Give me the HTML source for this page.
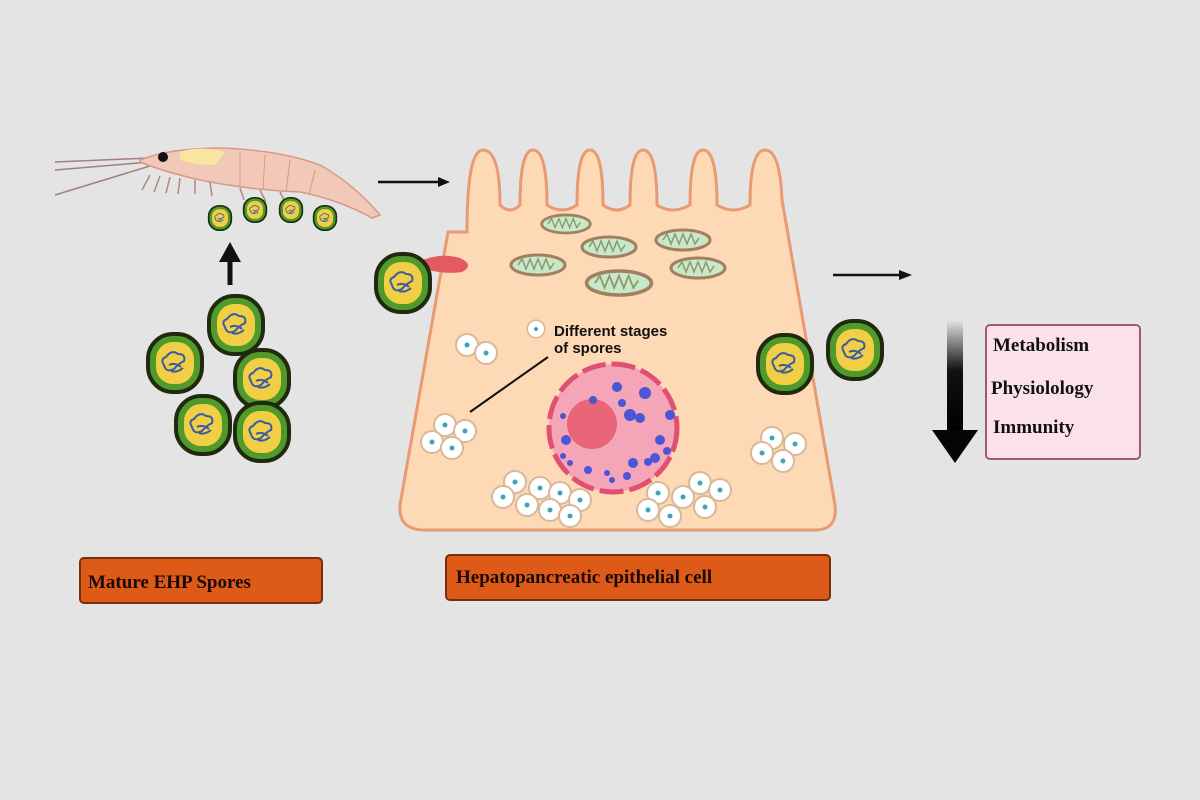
<!DOCTYPE html>
<html><head><meta charset="utf-8"><style>
html,body{margin:0;padding:0;background:#e4e4e4;}
svg{display:block}
text{font-family:"Liberation Serif",serif;font-weight:bold;}
</style></head><body>
<svg width="1200" height="800" viewBox="0 0 1200 800" xmlns="http://www.w3.org/2000/svg">
<defs>
<g id="sp">
<rect x="-27" y="-29" width="54" height="58" rx="25" fill="#4f9a2a" stroke="#1f2a10" stroke-width="4"/>
<rect x="-19" y="-21" width="38" height="42" rx="17" fill="#f0cf45"/>
<path d="M-9,-6 q6,-8 12,-3 q8,0 6,7 q-6,3 -10,8 q-8,4 -10,-4 q-4,-6 2,-8z M-6,2 q6,-3 12,2 M-4,8 q6,2 12,-3" fill="none" stroke="#3a5aa8" stroke-width="2"/>
</g>
<g id="sc">
<circle r="11" fill="#fff" stroke="#d8b898" stroke-width="2"/>
<circle r="2.5" fill="#3aa8b8"/>
</g>
<linearGradient id="ag" x1="0" y1="0" x2="0" y2="1">
<stop offset="0" stop-color="#e4e4e4"/><stop offset="0.45" stop-color="#111"/><stop offset="1" stop-color="#000"/>
</linearGradient>
<g id="mito">
<ellipse rx="27" ry="10" fill="#c8e8c8" stroke="#a08060" stroke-width="3"/>
<path d="M-20,0 l4,-6 l4,10 l4,-10 l4,10 l4,-10 l4,10 l4,-10 l4,10 l4,-6" fill="none" stroke="#8a9a70" stroke-width="1.5"/>
</g>
</defs>
<rect width="1200" height="800" fill="#e4e4e4"/>

<!-- shrimp -->
<g>
<path d="M55,162 L150,158 M55,170 L150,162 M55,195 L150,166" stroke="#a08080" stroke-width="1.5" fill="none"/>
<path d="M140,160 Q170,148 220,148 Q280,150 320,165 Q355,185 380,215 L372,218 Q340,200 300,192 Q250,190 200,180 Q165,172 140,162z" fill="#f2c8b8" stroke="#d89888" stroke-width="1.5"/>
<path d="M180,152 Q200,145 225,152 L215,165 Q195,165 180,160z" fill="#f8e6a0"/>
<circle cx="163" cy="157" r="5" fill="#111"/>
<path d="M150,175 l-8,15 M160,176 l-6,16 M170,177 l-4,16 M180,178 l-2,16 M195,180 l0,14 M210,182 l2,14 M240,188 l4,12 M260,190 l6,12 M280,192 l6,12" stroke="#b08878" stroke-width="1.5"/>
<path d="M240,152 l0,35 M265,155 l-2,35 M290,160 l-4,32 M315,170 l-6,25" stroke="#d89888" stroke-width="1"/>
</g>
<use href="#sp" transform="translate(220,218) scale(0.42)"/>
<use href="#sp" transform="translate(255,210) scale(0.42)"/>
<use href="#sp" transform="translate(291,210) scale(0.42)"/>
<use href="#sp" transform="translate(325,218) scale(0.42)"/>

<!-- up arrow -->
<path d="M230,285 L230,258" stroke="#111" stroke-width="5"/>
<polygon points="219,262 241,262 230,242" fill="#111"/>

<use href="#sp" transform="translate(236,325)"/>
<use href="#sp" transform="translate(175,363)"/>
<use href="#sp" transform="translate(262,379)"/>
<use href="#sp" transform="translate(203,425)"/>
<use href="#sp" transform="translate(262,432)"/>

<!-- arrow to cell -->
<path d="M378,182 L440,182" stroke="#111" stroke-width="2.5"/>
<polygon points="438,177 450,182 438,187" fill="#111"/>

<!-- cell -->
<path d="M400,505 L448,232 L467,232 Q467,150 483,150 Q500,150 500,205 Q510,215 520,205 Q520,150 533,150 Q547,150 547,205 Q562,215 577,205 Q577,150 590,150 Q603,150 603,205 Q617,215 630,205 Q630,150 643,150 Q657,150 657,205 Q672,215 690,205 Q690,150 703,150 Q717,150 717,205 Q733,215 750,205 Q750,150 765,150 Q780,150 782,200 L835,505 Q838,530 815,530 L425,530 Q398,530 400,505z" fill="#fdd9b5" stroke="#e89a72" stroke-width="3"/>
<use href="#mito" transform="translate(566,224) scale(0.9)"/>
<use href="#mito" transform="translate(609,247)"/>
<use href="#mito" transform="translate(683,240)"/>
<use href="#mito" transform="translate(538,265)"/>
<use href="#mito" transform="translate(698,268)"/>
<use href="#mito" transform="translate(619,283) scale(1.2)"/>
<!-- attached spore and pink tube -->
<path d="M418,262 Q440,252 460,258 Q475,265 462,272 Q445,275 420,268z" fill="#e35a60"/>
<use href="#sp" transform="translate(403,283)"/>

<!-- nucleus -->
<g transform="translate(0,8)">
<circle cx="613" cy="420" r="64" fill="#f4a5b8" stroke="#e05070" stroke-width="5" stroke-dasharray="24 6"/>
<circle cx="592" cy="416" r="25" fill="#e9657a"/>
<g fill="#4a55d8">
<circle cx="593" cy="392" r="4"/><circle cx="617" cy="379" r="5"/><circle cx="645" cy="385" r="6"/><circle cx="622" cy="395" r="4"/><circle cx="630" cy="407" r="6"/><circle cx="640" cy="410" r="5"/><circle cx="670" cy="407" r="5"/><circle cx="563" cy="408" r="3"/><circle cx="566" cy="432" r="5"/><circle cx="563" cy="448" r="3"/><circle cx="588" cy="462" r="4"/><circle cx="607" cy="465" r="3"/><circle cx="633" cy="455" r="5"/><circle cx="648" cy="454" r="4"/><circle cx="655" cy="450" r="5"/><circle cx="660" cy="432" r="5"/><circle cx="667" cy="443" r="4"/><circle cx="612" cy="472" r="3"/><circle cx="627" cy="468" r="4"/><circle cx="570" cy="455" r="3"/>
</g>
</g>

<!-- spore clusters -->
<use href="#sc" transform="translate(467,345)"/><use href="#sc" transform="translate(486,353)"/>
<use href="#sc" transform="translate(445,425)"/><use href="#sc" transform="translate(465,431)"/><use href="#sc" transform="translate(432,442)"/><use href="#sc" transform="translate(452,448)"/>
<use href="#sc" transform="translate(772,438)"/><use href="#sc" transform="translate(795,444)"/><use href="#sc" transform="translate(762,453)"/><use href="#sc" transform="translate(783,461)"/>
<use href="#sc" transform="translate(515,482)"/><use href="#sc" transform="translate(540,488)"/><use href="#sc" transform="translate(560,493)"/><use href="#sc" transform="translate(580,500)"/><use href="#sc" transform="translate(503,497)"/><use href="#sc" transform="translate(527,505)"/><use href="#sc" transform="translate(550,510)"/><use href="#sc" transform="translate(570,516)"/>
<use href="#sc" transform="translate(658,493)"/><use href="#sc" transform="translate(700,483)"/><use href="#sc" transform="translate(720,490)"/><use href="#sc" transform="translate(683,497)"/><use href="#sc" transform="translate(648,510)"/><use href="#sc" transform="translate(670,516)"/><use href="#sc" transform="translate(705,507)"/>
<use href="#sc" transform="translate(536,329) scale(0.8)"/>
<text x="554" y="336" font-size="15" fill="#111" style="font-family:'Liberation Sans',sans-serif">Different stages</text>
<text x="554" y="353" font-size="15" fill="#111" style="font-family:'Liberation Sans',sans-serif">of spores</text>
<path d="M548,357 L470,412" stroke="#111" stroke-width="2"/>

<!-- right spores -->
<use href="#sp" transform="translate(785,364)"/>
<use href="#sp" transform="translate(855,350)"/>

<path d="M833,275 L900,275" stroke="#111" stroke-width="2.5"/>
<polygon points="899,270 912,275 899,280" fill="#111"/>

<!-- down arrow -->
<rect x="947" y="320" width="16" height="112" fill="url(#ag)"/>
<polygon points="932,430 978,430 955,463" fill="#050505"/>

<rect x="986" y="325" width="154" height="134" rx="4" fill="#fbe2ea" stroke="#a25868" stroke-width="2"/>
<text x="993" y="351" font-size="19" fill="#111">Metabolism</text>
<text x="991" y="394" font-size="19" fill="#111">Physiolology</text>
<text x="993" y="433" font-size="19" fill="#111">Immunity</text>

<!-- labels -->
<rect x="80" y="558" width="242" height="45" rx="4" fill="#dd5a18" stroke="#7a2e10" stroke-width="2"/>
<text x="88" y="588" font-size="19" fill="#1a0a05">Mature EHP Spores</text>
<rect x="446" y="555" width="384" height="45" rx="4" fill="#dd5a18" stroke="#7a2e10" stroke-width="2"/>
<text x="456" y="583" font-size="19" fill="#1a0a05">Hepatopancreatic epithelial cell</text>
</svg>
</body></html>
